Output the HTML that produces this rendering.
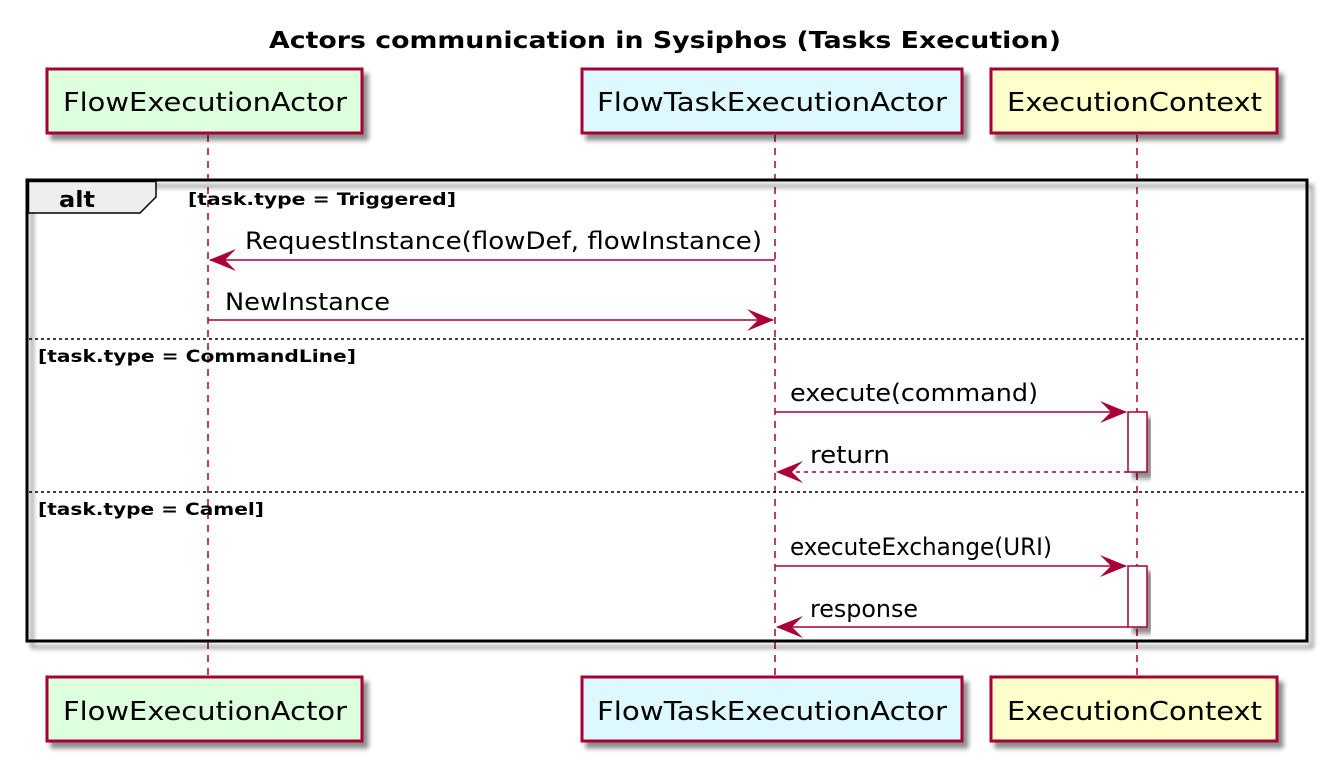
<!DOCTYPE html>
<html><head><style>body{margin:0;background:#fff}svg{display:block}text{font-family:"DejaVu Sans","Liberation Sans",sans-serif}</style></head>
<body>
<svg width="1329" height="761" viewBox="0 0 1329 761" xmlns="http://www.w3.org/2000/svg">
<defs>
<filter id="sh" x="-10%" y="-10%" width="130%" height="140%"><feGaussianBlur in="SourceAlpha" stdDeviation="2.5"/><feOffset dx="5" dy="6"/><feComponentTransfer><feFuncA type="linear" slope="0.45"/></feComponentTransfer><feMerge><feMergeNode/><feMergeNode in="SourceGraphic"/></feMerge></filter>
</defs>
<text x="665" y="48" text-anchor="middle" font-size="23" font-weight="bold" textLength="792" lengthAdjust="spacingAndGlyphs">Actors communication in Sysiphos (Tasks Execution)</text>
<g stroke="#A80036" stroke-width="1.5" stroke-dasharray="7,6">
<line x1="208" y1="135" x2="208" y2="677"/><line x1="775" y1="135" x2="775" y2="677"/><line x1="1137" y1="135" x2="1137" y2="677"/>
</g>
<g filter="url(#sh)" stroke="#A80036" stroke-width="3">
<rect x="47" y="69" width="315" height="64" fill="#DDFFDD"/>
<rect x="582" y="69" width="380" height="64" fill="#DDF9FF"/>
<rect x="991" y="69" width="286" height="64" fill="#FFFFCC"/>
<rect x="47" y="677" width="315" height="64" fill="#DDFFDD"/>
<rect x="582" y="677" width="380" height="64" fill="#DDF9FF"/>
<rect x="991" y="677" width="286" height="64" fill="#FFFFCC"/>
</g>
<g font-size="26">
<text x="63" y="111" textLength="284" lengthAdjust="spacingAndGlyphs">FlowExecutionActor</text>
<text x="597" y="111" textLength="350" lengthAdjust="spacingAndGlyphs">FlowTaskExecutionActor</text>
<text x="1007" y="111" textLength="255" lengthAdjust="spacingAndGlyphs">ExecutionContext</text>
<text x="63" y="720" textLength="284" lengthAdjust="spacingAndGlyphs">FlowExecutionActor</text>
<text x="597" y="720" textLength="350" lengthAdjust="spacingAndGlyphs">FlowTaskExecutionActor</text>
<text x="1007" y="720" textLength="255" lengthAdjust="spacingAndGlyphs">ExecutionContext</text>
</g>
<rect x="27" y="180" width="1280" height="461" fill="none" stroke="#000" stroke-width="3" filter="url(#sh)"/>
<path d="M28.5,181.5 H156 V197 L140,213 H28.5 Z" fill="#EEEEEE" stroke="#000" stroke-width="1.5"/>
<text x="59" y="207" font-size="22" font-weight="bold" textLength="36" lengthAdjust="spacingAndGlyphs">alt</text>
<g font-size="17" font-weight="bold">
<text x="188" y="205" textLength="268" lengthAdjust="spacingAndGlyphs">[task.type = Triggered]</text>
<text x="38" y="362" textLength="318" lengthAdjust="spacingAndGlyphs">[task.type = CommandLine]</text>
<text x="38" y="515" textLength="226" lengthAdjust="spacingAndGlyphs">[task.type = Camel]</text>
</g>
<g stroke="#000" stroke-width="1.5" stroke-dasharray="3,3">
<line x1="29" y1="339" x2="1305" y2="339"/><line x1="29" y1="492" x2="1305" y2="492"/>
</g>
<g filter="url(#sh)" fill="#fff" stroke="#A80036" stroke-width="1.5">
<rect x="1128" y="412" width="19" height="60"/>
<rect x="1128" y="566" width="19" height="61"/>
</g>
<g stroke="#A80036" stroke-width="1.5" fill="none">
<line x1="775" y1="260" x2="210" y2="260"/>
<line x1="208" y1="320" x2="773" y2="320"/>
<line x1="775" y1="412" x2="1126" y2="412"/>
<line x1="1128" y1="472" x2="777" y2="472" stroke-dasharray="4,4"/>
<line x1="775" y1="566" x2="1126" y2="566"/>
<line x1="1128" y1="627" x2="777" y2="627"/>
</g>
<g fill="#A80036">
<path d="M209,260 L236,249 L225,260 L236,271 Z"/>
<path d="M774,320 L747,309 L758,320 L747,331 Z"/>
<path d="M1127,412 L1100,401 L1111,412 L1100,423 Z"/>
<path d="M776,472 L803,461 L792,472 L803,483 Z"/>
<path d="M1127,566 L1100,555 L1111,566 L1100,577 Z"/>
<path d="M776,627 L803,616 L792,627 L803,638 Z"/>
</g>
<g font-size="24">
<text x="245" y="249" textLength="517" lengthAdjust="spacingAndGlyphs">RequestInstance(flowDef, flowInstance)</text>
<text x="225" y="310" textLength="165" lengthAdjust="spacingAndGlyphs">NewInstance</text>
<text x="790" y="401" textLength="248" lengthAdjust="spacingAndGlyphs">execute(command)</text>
<text x="810" y="463" textLength="80" lengthAdjust="spacingAndGlyphs">return</text>
<text x="790" y="555" textLength="262" lengthAdjust="spacingAndGlyphs">executeExchange(URI)</text>
<text x="810" y="617" textLength="108" lengthAdjust="spacingAndGlyphs">response</text>
</g>
</svg>
</body></html>
